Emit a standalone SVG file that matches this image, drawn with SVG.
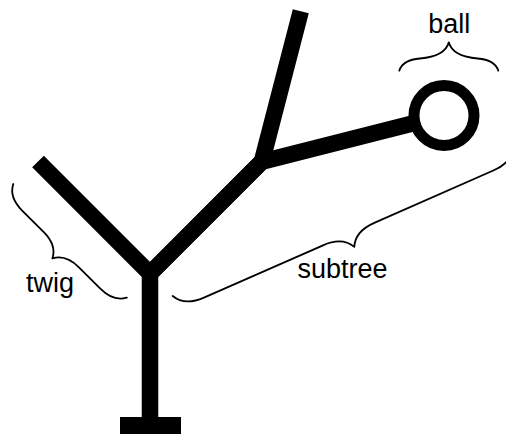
<svg xmlns="http://www.w3.org/2000/svg" width="506" height="435" viewBox="0 0 506 435">
<style>
.br{fill:none;stroke:#000;stroke-width:1.8;stroke-linecap:round;stroke-linejoin:round}
.tk{fill:none;stroke:#000;stroke-width:16.5;stroke-linecap:butt;stroke-linejoin:miter;stroke-miterlimit:10}
.lb{font-family:"Liberation Sans",Arial,sans-serif;font-size:27px;fill:#000;text-anchor:middle}
</style>
<rect width="506" height="435" fill="#fff"/>
<g id="tree">
<path class="tk" d="M38,161.5 L150,273.5 L261.8,161.7 L300.8,11.3"/>
<path class="tk" d="M150,273.5 L261.8,161.7 L444,115.5"/>
<path class="tk" d="M150,273.5 L150,418"/>
<rect x="120" y="417" width="61" height="17" fill="#000"/>
</g>
<g id="ball">
<circle cx="444" cy="115.5" r="30" fill="#fff" stroke="#000" stroke-width="11"/>
</g>
<g id="braces">
<path id="brace-twig" class="br" transform="translate(13.3,184) rotate(45)" d="M0,0 C3.75,7.5 12.5,12.5 25,12.5 L55.3,12.5 C67.8,12.5 76.55,17.5 80.3,25 C84.05,17.5 92.8,12.5 105.3,12.5 L135.6,12.5 C148.1,12.5 156.85,7.5 160.6,0"/>
<path id="brace-subtree" class="br" transform="translate(172.7,296) rotate(-23.7)" d="M0,0 C4.2,8.4 14,14 28,14 L158,14 C172,14 181.8,19.6 186,28 C190.2,19.6 200,14 214,14 L344,14 C358,14 367.8,8.4 372,0"/>
<path id="brace-ball" class="br" d="M399.3,70.7 C401.5,63.5 408,59.5 420,58.5 C438,57 446.5,51 448.8,42.3 C451.1,51 459.6,57 477.6,58.5 C489.6,59.5 496.1,63.5 498.3,70.7"/>
</g>
<g id="labels">
<text class="lb" x="449.2" y="33.3">ball</text>
<text class="lb" x="50" y="291.7">twig</text>
<text class="lb" x="342.5" y="278.3">subtree</text>
</g>
</svg>
